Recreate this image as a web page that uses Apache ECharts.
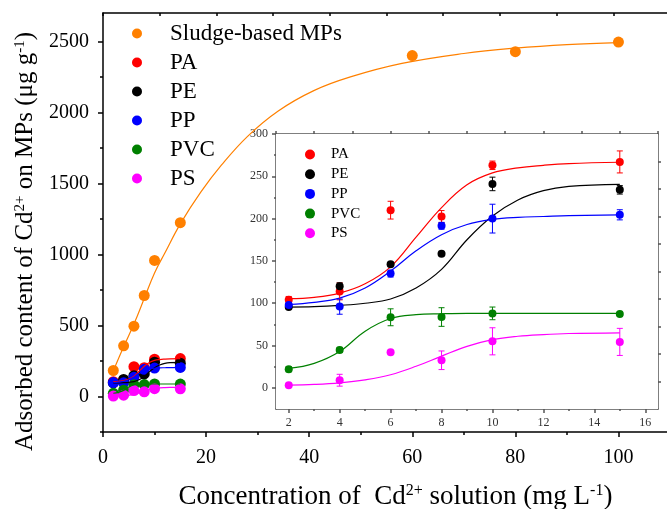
<!DOCTYPE html>
<html>
<head>
<meta charset="utf-8">
<script src="https://cdn.jsdelivr.net/npm/echarts@6/dist/echarts.min.js"></script>
<style>html,body{margin:0;padding:0;background:#fff}#c{width:667px;height:509px}</style>
</head>
<body>
<div id="c"></div>
<script>
// ---------- data ----------
const seriesNames = ['PA', 'PE', 'PP', 'PVC', 'PS'];
const seriesColors = ['#FF0000', '#000000', '#0000FF', '#008000', '#FF00FF'];
const concX = [2, 4, 6, 8, 10, 15];
const paY  = [104, 114, 210, 202.5, 263, 267];
const peY  = [95.5, 120, 146, 158.5, 241, 234];
const ppY  = [98, 96, 135, 191.5, 200, 204.5];
const pvcY = [22, 44.8, 83.4, 83.7, 88, 87.3];
const psY  = [3.1, 9, 42, 32.6, 55, 54.3];
const paErr  = [4, 10, 10.5, 7, 5, 13];
const peErr  = [2, 4, 2, 1, 8, 5];
const ppErr  = [2, 9, 4, 4, 17, 6];
const pvcErr = [3, 3, 10, 11, 7.5, 1];
const psErr  = [1, 7, 1, 11, 16, 16];

const fitX   = [2, 3, 4, 5, 6, 7, 8, 9, 10, 11, 12, 13, 15];
const paFit  = [105.4, 107, 112, 123, 143, 178, 213, 240, 254, 260, 263, 265, 266.6];
const peFit  = [95.5, 96, 97.5, 100, 105, 118, 140, 175, 203, 222, 233, 238, 240.5];
const ppFit  = [98.5, 101, 106, 118, 138, 162, 181, 193, 199, 201.5, 202.5, 203.5, 204.5];
const pvcFit = [23, 29, 43, 67, 82, 86.5, 87.5, 88, 88, 88, 88, 88, 88];
const psFit  = [3.1, 4, 5.9, 9.5, 15.5, 25.5, 37.5, 49, 57, 61, 63, 64.2, 65];

const sludgeName = 'Sludge-based MPs';
const sludgeX = [2, 4, 6, 8, 10, 15, 60, 80, 100];
const sludgeY = [183, 357, 495, 711, 958, 1224, 2400, 2428, 2495];
const sludgeFitX = [2, 4, 6, 8, 10, 12, 15, 19, 23, 28, 34, 41, 48, 58, 70, 80, 90, 100];
const sludgeFitY = [180, 350, 510, 690, 870, 1010, 1215, 1440, 1630, 1830, 2010, 2155, 2250, 2345, 2415, 2453, 2478, 2492];

// tick values
const mainXMajor = [0, 20, 40, 60, 80, 100];
const mainXMinor = [10, 30, 50, 70, 90];
const mainYMajor = [0, 500, 1000, 1500, 2000, 2500];
const mainYMinor = [-250, 250, 750, 1250, 1750, 2250];
const insetXMajor = [2, 4, 6, 8, 10, 12, 14, 16];
const insetXMinor = [3, 5, 7, 9, 11, 13, 15];
const insetYMajor = [0, 50, 100, 150, 200, 250, 300];
const insetYMinor = [25, 75, 125, 175, 225, 275];
const insetYRight = [7.5, 40, 72.5, 105, 137.5, 170, 202.5, 235, 267.5];

// ---------- build ----------
const ys = [paY, peY, ppY, pvcY, psY];
const errs = [paErr, peErr, ppErr, pvcErr, psErr];
const fits = [paFit, peFit, ppFit, pvcFit, psFit];
const FONT = 'Liberation Serif';

function zip(xs, ys) { return xs.map((x, i) => [x, ys[i]]); }

function errSeries(xi, yi, xs, vals, es, color, cap, name) {
  return {
    type: 'custom', name: name, xAxisIndex: xi, yAxisIndex: yi, z: 3,
    silent: true,
    data: xs.map((x, i) => [x, vals[i] - es[i], vals[i] + es[i]]),
    renderItem: function (params, api) {
      const lo = api.coord([api.value(0), api.value(1)]);
      const hi = api.coord([api.value(0), api.value(2)]);
      const st = { stroke: color, lineWidth: 1 };
      return { type: 'group', children: [
        { type: 'line', shape: { x1: lo[0], y1: lo[1], x2: hi[0], y2: hi[1] }, style: st },
        { type: 'line', shape: { x1: lo[0] - cap, y1: lo[1], x2: lo[0] + cap, y2: lo[1] }, style: st },
        { type: 'line', shape: { x1: hi[0] - cap, y1: hi[1], x2: hi[0] + cap, y2: hi[1] }, style: st }
      ]};
    }
  };
}

const series = [];
// main: sludge
series.push({ type: 'line', name: 'sludge fit', xAxisIndex: 0, yAxisIndex: 0, data: zip(sludgeFitX, sludgeFitY),
  smooth: 0.4, showSymbol: false, lineStyle: { color: '#FF8000', width: 1.2 }, z: 2, silent: true });
series.push({ type: 'scatter', name: sludgeName, xAxisIndex: 0, yAxisIndex: 0, data: zip(sludgeX, sludgeY),
  symbolSize: 11, itemStyle: { color: '#FF8000', opacity: 1 }, z: 4 });
// main: small series
seriesNames.forEach((n, k) => {
  series.push({ type: 'line', name: n + ' fit main', xAxisIndex: 0, yAxisIndex: 0, data: zip(fitX, fits[k]),
    smooth: 0.4, showSymbol: false, lineStyle: { color: seriesColors[k], width: 1.2 }, z: 5, silent: true });
});
seriesNames.forEach((n, k) => {
  series.push({ type: 'scatter', name: n, xAxisIndex: 0, yAxisIndex: 0, data: zip(concX, ys[k]),
    symbolSize: 11, itemStyle: { color: seriesColors[k], opacity: 1 }, z: 4 });
  series.push(errSeries(0, 0, concX, ys[k], errs[k], seriesColors[k], 4, n + ' err main'));
});
// inset
seriesNames.forEach((n, k) => {
  series.push({ type: 'line', name: n + ' fit', xAxisIndex: 3, yAxisIndex: 2, data: zip(fitX, fits[k]),
    smooth: 0.4, showSymbol: false, lineStyle: { color: seriesColors[k], width: 1.2 }, z: 2, silent: true });
  series.push(errSeries(3, 2, concX, ys[k], errs[k], seriesColors[k], 3, n + ' err'));
  series.push({ type: 'scatter', name: n, xAxisIndex: 3, yAxisIndex: 2, data: zip(concX, ys[k]),
    symbolSize: 8, itemStyle: { color: seriesColors[k], opacity: 1 }, z: 4 });
});

const black = { color: '#000', width: 1.5 };
const gray = { color: '#555', width: 1.5 };
const none = { show: false };
const plain = v => String(v);

const option = {
  animation: false,
  backgroundColor: '#fff',
  textStyle: { fontFamily: FONT },
  grid: [
    { left: 103, top: 13, width: 567, height: 419, outerBoundsMode: 'none', containLabel: false },
    { left: 276, top: 134, width: 382, height: 275, outerBoundsMode: 'none', containLabel: false,
      show: true, backgroundColor: '#fff', borderWidth: 0, z: 1 }
  ],
  legend: [
    { data: [sludgeName].concat(seriesNames), orient: 'vertical', left: 132, top: 22, padding: 0,
      icon: 'circle', itemWidth: 10, itemHeight: 10, itemGap: 6, selectedMode: false,
      textStyle: { fontFamily: FONT, fontSize: 23, lineHeight: 23, color: '#000', padding: [0, 0, 0, 23] } },
    { data: seriesNames, orient: 'vertical', left: 305, top: 147, z: 5, padding: 0,
      icon: 'circle', itemWidth: 10, itemHeight: 10, itemGap: 4.7, selectedMode: false,
      textStyle: { fontFamily: FONT, fontSize: 15, lineHeight: 15, color: '#000', padding: [0, 0, 0, 11] } }
  ],
  xAxis: [
    { gridIndex: 0, type: 'value', min: 0, max: 110, position: 'bottom',
      axisLine: { show: true, onZero: false, lineStyle: black },
      axisTick: { show: true, customValues: mainXMajor, length: 5, lineStyle: black },
      axisLabel: { customValues: mainXMajor, formatter: plain, fontFamily: FONT, fontSize: 20, color: '#000', margin: 16 },
      splitLine: none,
      name: '{n|Concentration of  Cd}{s|2+}{n| solution (mg L}{s|-1}{n|)}',
      nameLocation: 'middle', nameGap: 51,
      nameTextStyle: { padding: [0, 0, 0, 18], rich: {
        n: { fontFamily: FONT, fontSize: 27, color: '#000' },
        s: { fontFamily: FONT, fontSize: 16, color: '#000', verticalAlign: 'top', padding: [0, 0, 12, 0] } } } },
    { gridIndex: 0, type: 'value', min: 0, max: 110, position: 'bottom',
      axisLine: { show: false, onZero: false }, axisLabel: none, splitLine: none,
      axisTick: { show: true, customValues: mainXMinor, length: 3, lineStyle: black } },
    { gridIndex: 0, type: 'value', min: 0, max: 110, interval: 11, position: 'top',
      axisLine: { show: true, onZero: false, lineStyle: black }, axisLabel: none, splitLine: none,
      axisTick: { show: true, inside: true, length: 3, lineStyle: black } },
    { gridIndex: 1, type: 'value', min: 1.5, max: 16.5, position: 'bottom',
      axisLine: { show: true, onZero: false, lineStyle: gray },
      axisTick: { show: true, customValues: insetXMajor, length: 4, lineStyle: gray },
      axisLabel: { customValues: insetXMajor, formatter: plain, fontFamily: FONT, fontSize: 12, color: '#333', margin: 8 },
      splitLine: none },
    { gridIndex: 1, type: 'value', min: 1.5, max: 16.5, position: 'bottom',
      axisLine: { show: false, onZero: false }, axisLabel: none, splitLine: none,
      axisTick: { show: true, customValues: insetXMinor, length: 2, lineStyle: gray } },
    { gridIndex: 1, type: 'value', min: 1.5, max: 16.5, interval: 1.5, position: 'top',
      axisLine: { show: true, onZero: false, lineStyle: gray }, axisLabel: none, splitLine: none,
      axisTick: { show: true, length: 3, lineStyle: gray } }
  ],
  yAxis: [
    { gridIndex: 0, type: 'value', min: -250, max: 2700, position: 'left',
      axisLine: { show: true, onZero: false, lineStyle: black },
      axisTick: { show: true, customValues: mainYMajor, length: 5, lineStyle: black },
      axisLabel: { customValues: mainYMajor, formatter: plain, fontFamily: FONT, fontSize: 20, color: '#000', margin: 14 },
      splitLine: none,
      name: '{n|Adsorbed content of Cd}{s|2+}{n| on MPs (μg g}{s|-1}{n|)}',
      nameLocation: 'middle', nameRotate: 90, nameGap: 55,
      nameTextStyle: { padding: [0, 38, 0, 0], rich: {
        n: { fontFamily: FONT, fontSize: 25, color: '#000' },
        s: { fontFamily: FONT, fontSize: 15, color: '#000', verticalAlign: 'top', padding: [0, 0, 11, 0] } } } },
    { gridIndex: 0, type: 'value', min: -250, max: 2700, position: 'left',
      axisLine: { show: false, onZero: false }, axisLabel: none, splitLine: none,
      axisTick: { show: true, customValues: mainYMinor, length: 3, lineStyle: black } },
    { gridIndex: 1, type: 'value', min: -25, max: 300, position: 'left',
      axisLine: { show: true, onZero: false, lineStyle: gray },
      axisTick: { show: true, customValues: insetYMajor, length: 4, lineStyle: gray },
      axisLabel: { customValues: insetYMajor, formatter: plain, fontFamily: FONT, fontSize: 12, color: '#333', margin: 8 },
      splitLine: none },
    { gridIndex: 1, type: 'value', min: -25, max: 300, position: 'left',
      axisLine: { show: false, onZero: false }, axisLabel: none, splitLine: none,
      axisTick: { show: true, customValues: insetYMinor, length: 2, lineStyle: gray } },
    { gridIndex: 1, type: 'value', min: -25, max: 300, position: 'right',
      axisLine: { show: true, onZero: false, lineStyle: gray }, axisLabel: none, splitLine: none,
      axisTick: { show: true, customValues: insetYRight, length: 3, lineStyle: gray } }
  ],
  series: series
};

const chart = echarts.init(document.getElementById('c'), null, { renderer: 'canvas' });
chart.setOption(option);
</script>
</body>
</html>
